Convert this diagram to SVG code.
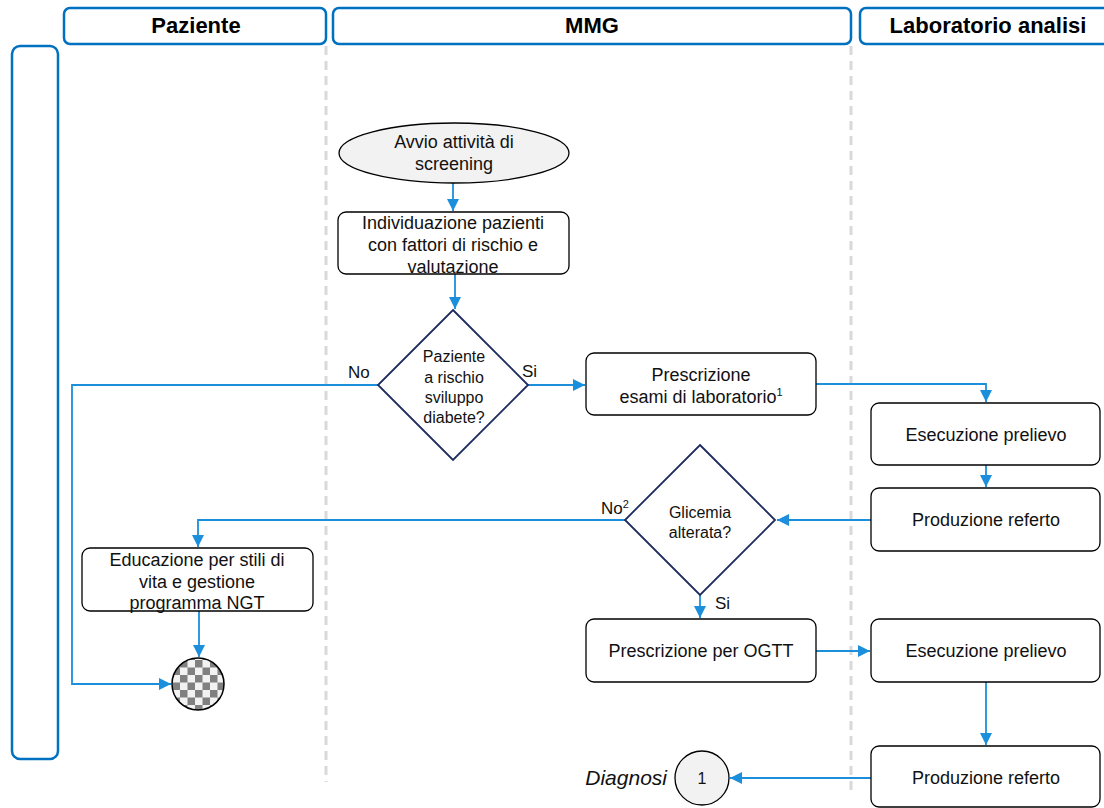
<svg xmlns="http://www.w3.org/2000/svg" width="1104" height="808" viewBox="0 0 1104 808">
<style>
.hdr{fill:#fff;stroke:#0070C0;stroke-width:2.5}
.ht{font-family:"Liberation Sans",Arial,sans-serif;font-size:22px;font-weight:bold;fill:#000;text-anchor:middle}
.lane{stroke:#d9d9d9;stroke-width:3;stroke-dasharray:9,6;fill:none}
.box{fill:#fff;stroke:#000;stroke-width:1.3}
.dia{fill:#fff;stroke:#1C2A5E;stroke-width:1.8}
.t{font-family:"Liberation Sans",Arial,sans-serif;font-size:18px;fill:#111;text-anchor:middle}
.td{font-family:"Liberation Sans",Arial,sans-serif;font-size:16px;fill:#111;text-anchor:middle}
.lbl{font-family:"Liberation Sans",Arial,sans-serif;font-size:17px;fill:#111}
.c{fill:none;stroke:#1B8FDB;stroke-width:1.8}
</style>
<defs>
<marker id="ah" markerUnits="userSpaceOnUse" markerWidth="14" markerHeight="14" refX="12" refY="6" orient="auto">
<path d="M0,0 L12,6 L0,12 z" fill="#1B8FDB"/>
</marker>
<pattern id="chk" patternUnits="userSpaceOnUse" x="0" y="0" width="15" height="15">
<rect width="15" height="15" fill="#f2f2f2"/>
<rect width="7.5" height="7.5" fill="#808080"/>
<rect x="7.5" y="7.5" width="7.5" height="7.5" fill="#808080"/>
</pattern>
</defs>

<g id="lanes">
<rect class="hdr" x="64" y="8" width="262" height="36" rx="6"/>
<text class="ht" x="196" y="33">Paziente</text>
<rect class="hdr" x="333" y="8" width="518" height="36" rx="6"/>
<text class="ht" x="592" y="33">MMG</text>
<rect class="hdr" x="860" y="8" width="260" height="36" rx="6"/>
<text class="ht" x="988" y="33">Laboratorio analisi</text>
<rect class="hdr" x="12" y="46" width="46" height="713" rx="8"/>
<line class="lane" x1="326" y1="46" x2="326" y2="782"/>
<line class="lane" x1="851" y1="46" x2="851" y2="795"/>
</g>

<g id="connectors">
<line class="c" x1="453" y1="183" x2="453" y2="211" marker-end="url(#ah)"/>
<line class="c" x1="455" y1="274" x2="455" y2="309" marker-end="url(#ah)"/>
<line class="c" x1="528" y1="385" x2="585" y2="385" marker-end="url(#ah)"/>
<polyline class="c" points="378,385 72,385 72,684 171,684" marker-end="url(#ah)"/>
<polyline class="c" points="816,384 986,384 986,402" marker-end="url(#ah)"/>
<line class="c" x1="986" y1="465" x2="986" y2="487" marker-end="url(#ah)"/>
<line class="c" x1="871" y1="520" x2="777" y2="520" marker-end="url(#ah)"/>
<polyline class="c" points="625,520 198,520 198,547" marker-end="url(#ah)"/>
<line class="c" x1="700" y1="595" x2="700" y2="618" marker-end="url(#ah)"/>
<line class="c" x1="199" y1="611" x2="199" y2="657" marker-end="url(#ah)"/>
<line class="c" x1="816" y1="651" x2="870" y2="651" marker-end="url(#ah)"/>
<line class="c" x1="986" y1="682" x2="986" y2="745" marker-end="url(#ah)"/>
<line class="c" x1="871" y1="778" x2="730" y2="778" marker-end="url(#ah)"/>
<text class="lbl" x="348" y="378">No</text>
<text class="lbl" x="522" y="377">Si</text>
<text class="lbl" x="601" y="514">No<tspan font-size="11" dy="-6">2</tspan></text>
<text class="lbl" x="715" y="609">Si</text>
</g>

<g id="start">
<ellipse cx="454" cy="153" rx="115" ry="30" fill="#f2f2f2" stroke="#000" stroke-width="1.3"/>
<text class="t" x="454" y="148">Avvio attività di</text>
<text class="t" x="454" y="170">screening</text>
</g>

<g id="individuazione">
<rect class="box" x="338" y="212" width="231" height="62" rx="8"/>
<text class="t" x="453" y="229">Individuazione pazienti</text>
<text class="t" x="453" y="251">con fattori di rischio e</text>
<text class="t" x="453" y="273">valutazione</text>
</g>

<g id="rischio">
<polygon class="dia" points="453,310 528,385 453,460 378,385"/>
<text class="td" x="454" y="362">Paziente</text>
<text class="td" x="454" y="383">a rischio</text>
<text class="td" x="454" y="403">sviluppo</text>
<text class="td" x="454" y="423">diabete?</text>
</g>

<g id="prescrizione-esami">
<rect class="box" x="586" y="353" width="230" height="62" rx="8"/>
<text class="t" x="701" y="381">Prescrizione</text>
<text class="t" x="701" y="403">esami di laboratorio<tspan font-size="11" dy="-7">1</tspan></text>
</g>

<g id="esecuzione1">
<rect class="box" x="871" y="403" width="229" height="62" rx="8"/>
<text class="t" x="986" y="441">Esecuzione prelievo</text>
</g>

<g id="referto1">
<rect class="box" x="871" y="488" width="229" height="63" rx="8"/>
<text class="t" x="986" y="526">Produzione referto</text>
</g>

<g id="glicemia">
<polygon class="dia" points="700,445 775,520 700,595 625,520"/>
<text class="td" x="700" y="518">Glicemia</text>
<text class="td" x="700" y="538">alterata?</text>
</g>

<g id="educazione">
<rect class="box" x="82" y="548" width="231" height="63" rx="8"/>
<text class="t" x="197" y="566">Educazione per stili di</text>
<text class="t" x="197" y="588">vita e gestione</text>
<text class="t" x="197" y="609">programma NGT</text>
</g>

<g id="fine">
<circle cx="198" cy="684" r="26" fill="url(#chk)" stroke="#000" stroke-width="1.5"/>
</g>

<g id="ogtt">
<rect class="box" x="586" y="619" width="230" height="63" rx="8"/>
<text class="t" x="701" y="657">Prescrizione per OGTT</text>
</g>

<g id="esecuzione2">
<rect class="box" x="871" y="619" width="229" height="63" rx="8"/>
<text class="t" x="986" y="657">Esecuzione prelievo</text>
</g>

<g id="referto2">
<rect class="box" x="871" y="746" width="229" height="61" rx="8"/>
<text class="t" x="986" y="784">Produzione referto</text>
</g>

<g id="diagnosi">
<circle cx="702" cy="778" r="27" fill="#f2f2f2" stroke="#000" stroke-width="1.3"/>
<text class="td" x="702" y="784">1</text>
<text x="667" y="785" font-family="Liberation Sans, Arial, sans-serif" font-size="21" font-style="italic" text-anchor="end" fill="#111">Diagnosi</text>
</g>
</svg>
